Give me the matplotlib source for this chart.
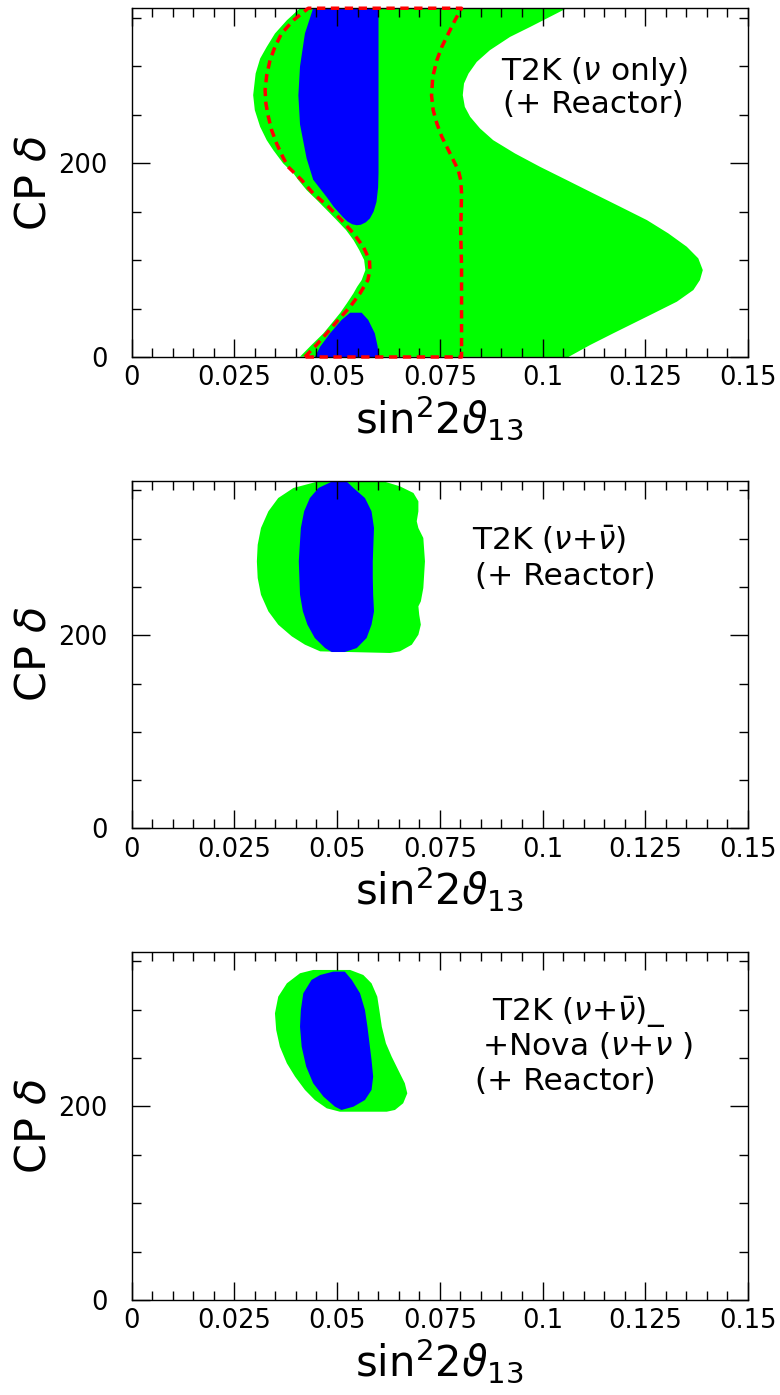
import matplotlib.pyplot as plt
from matplotlib.ticker import MultipleLocator

plt.rcParams['font.family'] = ['DejaVu Sans']
plt.rcParams['mathtext.fontset'] = 'dejavusans'

# axes
xticks = [0, 0.025, 0.05, 0.075, 0.1, 0.125, 0.15]
xtick_labels = ['0', '0.025', '0.05', '0.075', '0.1', '0.125', '0.15']
yticks = [0, 200]
ytick_labels = ['0', '200']

# --- panel 1 : T2K (nu only) + reactor ---
# green region, left and right edges (delta, sin^2 2theta13)
p1_green_left_d = [0.3, 12.4, 24.4, 34.7, 45.1, 55.4, 65.7, 72.5, 79.4, 89.7, 100.1,
                   110.4, 120.7, 131.0, 141.3, 151.7, 162.0, 172.3, 182.6, 189.5,
                   199.8, 213.5, 223.8, 237.6, 254.8, 270.3, 292.6, 308.1, 320.1,
                   333.9, 347.6, 360]
p1_green_left_x = [0.0410, 0.0438, 0.0467, 0.0487, 0.0507, 0.0524, 0.0540, 0.0549,
                   0.0560, 0.0569, 0.0566, 0.0554, 0.0540, 0.0522, 0.0499, 0.0475,
                   0.0451, 0.0426, 0.0406, 0.0394, 0.0369, 0.0345, 0.0329, 0.0313,
                   0.0300, 0.0296, 0.0302, 0.0313, 0.0329, 0.0349, 0.0378, 0.0410]
p1_green_right_d = [0, 12.4, 24.4, 34.7, 45.0, 57.1, 69.1, 79.4, 89.7, 101.8, 113.8,
                    127.6, 141.3, 155.1, 168.8, 182.6, 196.3, 210.1, 223.8, 235.9,
                    247.9, 258.2, 270.3, 282.3, 292.6, 304.6, 316.7, 330.4, 340.7,
                    351.1, 360]
p1_green_right_x = [0.1063, 0.1116, 0.1172, 0.1221, 0.1270, 0.1327, 0.1367, 0.1383,
                    0.1390, 0.1379, 0.1351, 0.1306, 0.1254, 0.1189, 0.1124, 0.1059,
                    0.0994, 0.0933, 0.0880, 0.0848, 0.0824, 0.0811, 0.0806, 0.0809,
                    0.0820, 0.0840, 0.0872, 0.0921, 0.0970, 0.1018, 0.1059]
# red dashed contour, left and right edges
p1_red_left_d = [0, 2.0, 10.6, 24.4, 38.2, 51.9, 65.7, 79.4, 89.7, 100.1, 113.8, 127.6,
                 141.3, 155.1, 168.9, 182.6, 196.3, 206.6, 220.4, 234.1, 247.9, 261.6,
                 275.4, 290.9, 306.4, 320.1, 333.9, 347.6, 360]
p1_red_left_x = [0.0422, 0.0426, 0.0446, 0.0475, 0.0503, 0.0532, 0.0556, 0.0575,
                 0.0580, 0.0579, 0.0564, 0.0540, 0.0511, 0.0479, 0.0442, 0.0414,
                 0.0381, 0.0368, 0.0353, 0.0341, 0.0333, 0.0327, 0.0325, 0.0329,
                 0.0337, 0.0349, 0.0365, 0.0394, 0.0430]
p1_red_right_d = [0, 24.4, 59, 93.3, 127.6, 169, 182.6, 193, 203.2, 213.6, 227.3, 241,
                  254.8, 270, 289.2, 306.4, 320.1, 334, 347.6, 360]
p1_red_right_x = [0.0803, 0.0803, 0.0803, 0.0803, 0.0801, 0.0803, 0.0801, 0.0795,
                  0.0783, 0.0771, 0.0755, 0.0743, 0.0734, 0.0730, 0.0733, 0.0743,
                  0.0755, 0.0771, 0.0787, 0.0803]
# blue islands
p1_blue_up_x = [0.0442, 0.0422, 0.0410, 0.0406, 0.0410, 0.0426, 0.0442, 0.0475, 0.0492,
                0.0513, 0.0525, 0.0537, 0.0548, 0.0558, 0.0570, 0.0580, 0.0589, 0.0596,
                0.0600, 0.0601, 0.0601]
p1_blue_up_d = [360, 334, 300, 270, 240, 205, 183, 165, 155, 145, 140, 137, 136, 136.5,
                139, 143, 150, 160, 175, 190, 360]
p1_blue_low_x = [0.0532, 0.0511, 0.0483, 0.0459, 0.0446, 0.0601, 0.0599, 0.0592,
                 0.0576, 0.0560]
p1_blue_low_d = [45.7, 38.2, 24.4, 10.6, 0, 0, 10.6, 24.4, 38.2, 45.7]

# --- panel 2 : T2K (nu + nubar) + reactor ---
p2_green_x = [0.0455, 0.0394, 0.0357, 0.0333, 0.0315, 0.0307, 0.0305, 0.0307, 0.0315,
              0.0333, 0.0357, 0.0390, 0.0422, 0.0459, 0.0629, 0.0653, 0.0682, 0.0698,
              0.0704, 0.0700, 0.0698, 0.0704, 0.0710, 0.0714, 0.0710, 0.0698, 0.0694,
              0.0698, 0.0698, 0.0686, 0.0653, 0.0613]
p2_green_d = [359.4, 352.5, 342.1, 328.3, 311.0, 293.7, 276.5, 259.2, 241.9, 224.7,
              210.9, 198.8, 190.2, 183.3, 181.6, 183.3, 190.2, 200.5, 210.9, 221.2,
              229.9, 235.1, 248.9, 276.5, 300.7, 311.0, 318.0, 328.3, 338.7, 347.3,
              354.2, 359.4]
p2_blue_x = [0.0487, 0.0455, 0.0434, 0.0420, 0.0412, 0.0407, 0.0410, 0.0417, 0.0428,
             0.0446, 0.0471, 0.0487, 0.0519, 0.0548, 0.0572, 0.0584, 0.0590, 0.0588,
             0.0587, 0.0587, 0.0590, 0.0584, 0.0568, 0.0540, 0.0524]
p2_blue_d = [359, 352.5, 342.1, 328.3, 311.0, 276.5, 241.9, 224.7, 210.9, 197.1, 186.7,
             182.6, 182.6, 186.7, 197.1, 210.9, 224.7, 241.9, 259.2, 276.5, 311.0, 328.3,
             342.1, 352.5, 359]

# --- panel 3 : T2K (nu + nubar) + NOvA (nu + nubar) + reactor ---
p3_green_x = [0.0442, 0.0410, 0.0378, 0.0357, 0.0349, 0.0352, 0.0361, 0.0378, 0.0398,
              0.0422, 0.0446, 0.0475, 0.0507, 0.0621, 0.0641, 0.0661, 0.0671, 0.0665,
              0.0649, 0.0633, 0.0619, 0.0609, 0.0603, 0.0598, 0.0584, 0.0564, 0.0532]
p3_green_d = [341.1, 337.7, 327.3, 313.5, 296.3, 279.1, 261.8, 244.6, 230.8, 217.1,
              206.7, 198.1, 194.6, 194.6, 196.4, 203.3, 213.6, 224.0, 237.7, 251.5,
              265.3, 282.5, 299.7, 313.5, 327.3, 335.9, 341.1]
p3_blue_x = [0.0491, 0.0459, 0.0438, 0.0418, 0.0412, 0.0410, 0.0414, 0.0425, 0.0442,
             0.0467, 0.0495, 0.0511, 0.0540, 0.0568, 0.0584, 0.0588, 0.0584, 0.0579,
             0.0574, 0.0568, 0.0556, 0.0536, 0.0519]
p3_blue_d = [339.4, 335.9, 330.8, 317.0, 299.7, 282.5, 261.8, 241.2, 224.0, 210.2,
             199.8, 196.4, 199.8, 206.7, 217.1, 230.8, 248.1, 265.3, 282.5, 299.7,
             317.0, 330.8, 339.4]

GREEN = '#00ff00'
BLUE = '#0000ff'

fig = plt.figure(figsize=(7.8, 13.95), dpi=100)
ax1 = fig.add_axes([0.1686, 0.7441, 0.7904, 0.2500])
ax2 = fig.add_axes([0.1686, 0.4062, 0.7904, 0.2492])
ax3 = fig.add_axes([0.1686, 0.0681, 0.7904, 0.2497])


def style(ax):
    ax.set_xlim(0, 0.15)
    ax.set_ylim(0, 360)
    ax.set_xticks(xticks)
    ax.set_xticklabels(xtick_labels)
    ax.set_yticks(yticks)
    ax.set_yticklabels(ytick_labels)
    ax.xaxis.set_minor_locator(MultipleLocator(0.005))
    ax.yaxis.set_minor_locator(MultipleLocator(50))
    ax.tick_params(which='both', direction='in', top=True, right=True, width=1.0,
                   color='black')
    ax.tick_params(which='major', length=13)
    ax.tick_params(which='minor', length=6.5)
    ax.tick_params(axis='x', which='major', labelsize=18.5, pad=6)
    ax.tick_params(axis='y', which='major', labelsize=18.5, pad=17)
    for s in ax.spines.values():
        s.set_linewidth(1.0)
    ax.set_xlabel(r'sin$^2$2$\vartheta_{13}$', fontsize=30, va='top')
    ax.xaxis.set_label_coords(0.5, -0.105)
    ax.set_ylabel(r'CP $\delta$', fontsize=31)
    ax.yaxis.set_label_coords(-0.125, 0.5)


# panel 1
ax1.fill(p1_green_left_x + p1_green_right_x[::-1],
         p1_green_left_d + p1_green_right_d[::-1], color=GREEN, lw=0)
ax1.fill(p1_blue_up_x, p1_blue_up_d, color=BLUE, lw=0)
ax1.fill(p1_blue_low_x, p1_blue_low_d, color=BLUE, lw=0)
red_x = p1_red_left_x + p1_red_right_x[::-1] + [p1_red_left_x[0]]
red_d = p1_red_left_d + p1_red_right_d[::-1] + [p1_red_left_d[0]]
ax1.plot(red_x, red_d, color='red', lw=2.5, dashes=(2.4, 1.6), clip_on=False, zorder=3)
ax1.text(0.0900, 285.7, r'T2K ($\nu$ only)', fontsize=22.5, ha='left', va='baseline')
ax1.text(0.0903, 251.7, '(+ Reactor)', fontsize=22.5, ha='left', va='baseline')
style(ax1)

# panel 2
ax2.fill(p2_green_x, p2_green_d, color=GREEN, lw=0)
ax2.fill(p2_blue_x, p2_blue_d, color=BLUE, lw=0)
ax2.text(0.0829, 288, r'T2K ($\nu$+$\bar{\nu}$)', fontsize=22.5, ha='left',
         va='baseline')
ax2.text(0.0836, 252, '(+ Reactor)', fontsize=22.5, ha='left', va='baseline')
style(ax2)

# panel 3
ax3.fill(p3_green_x, p3_green_d, color=GREEN, lw=0)
ax3.fill(p3_blue_x, p3_blue_d, color=BLUE, lw=0)
ax3.text(0.0877, 288, r'T2K ($\nu$+$\bar{\nu}$)_', fontsize=22.5, ha='left',
         va='baseline')
ax3.text(0.0853, 253, r'+Nova ($\nu$+$\nu$ )', fontsize=22.5, ha='left',
         va='baseline')
ax3.text(0.0836, 217, '(+ Reactor)', fontsize=22.5, ha='left', va='baseline')
style(ax3)

fig.savefig('out.png', dpi=100)
